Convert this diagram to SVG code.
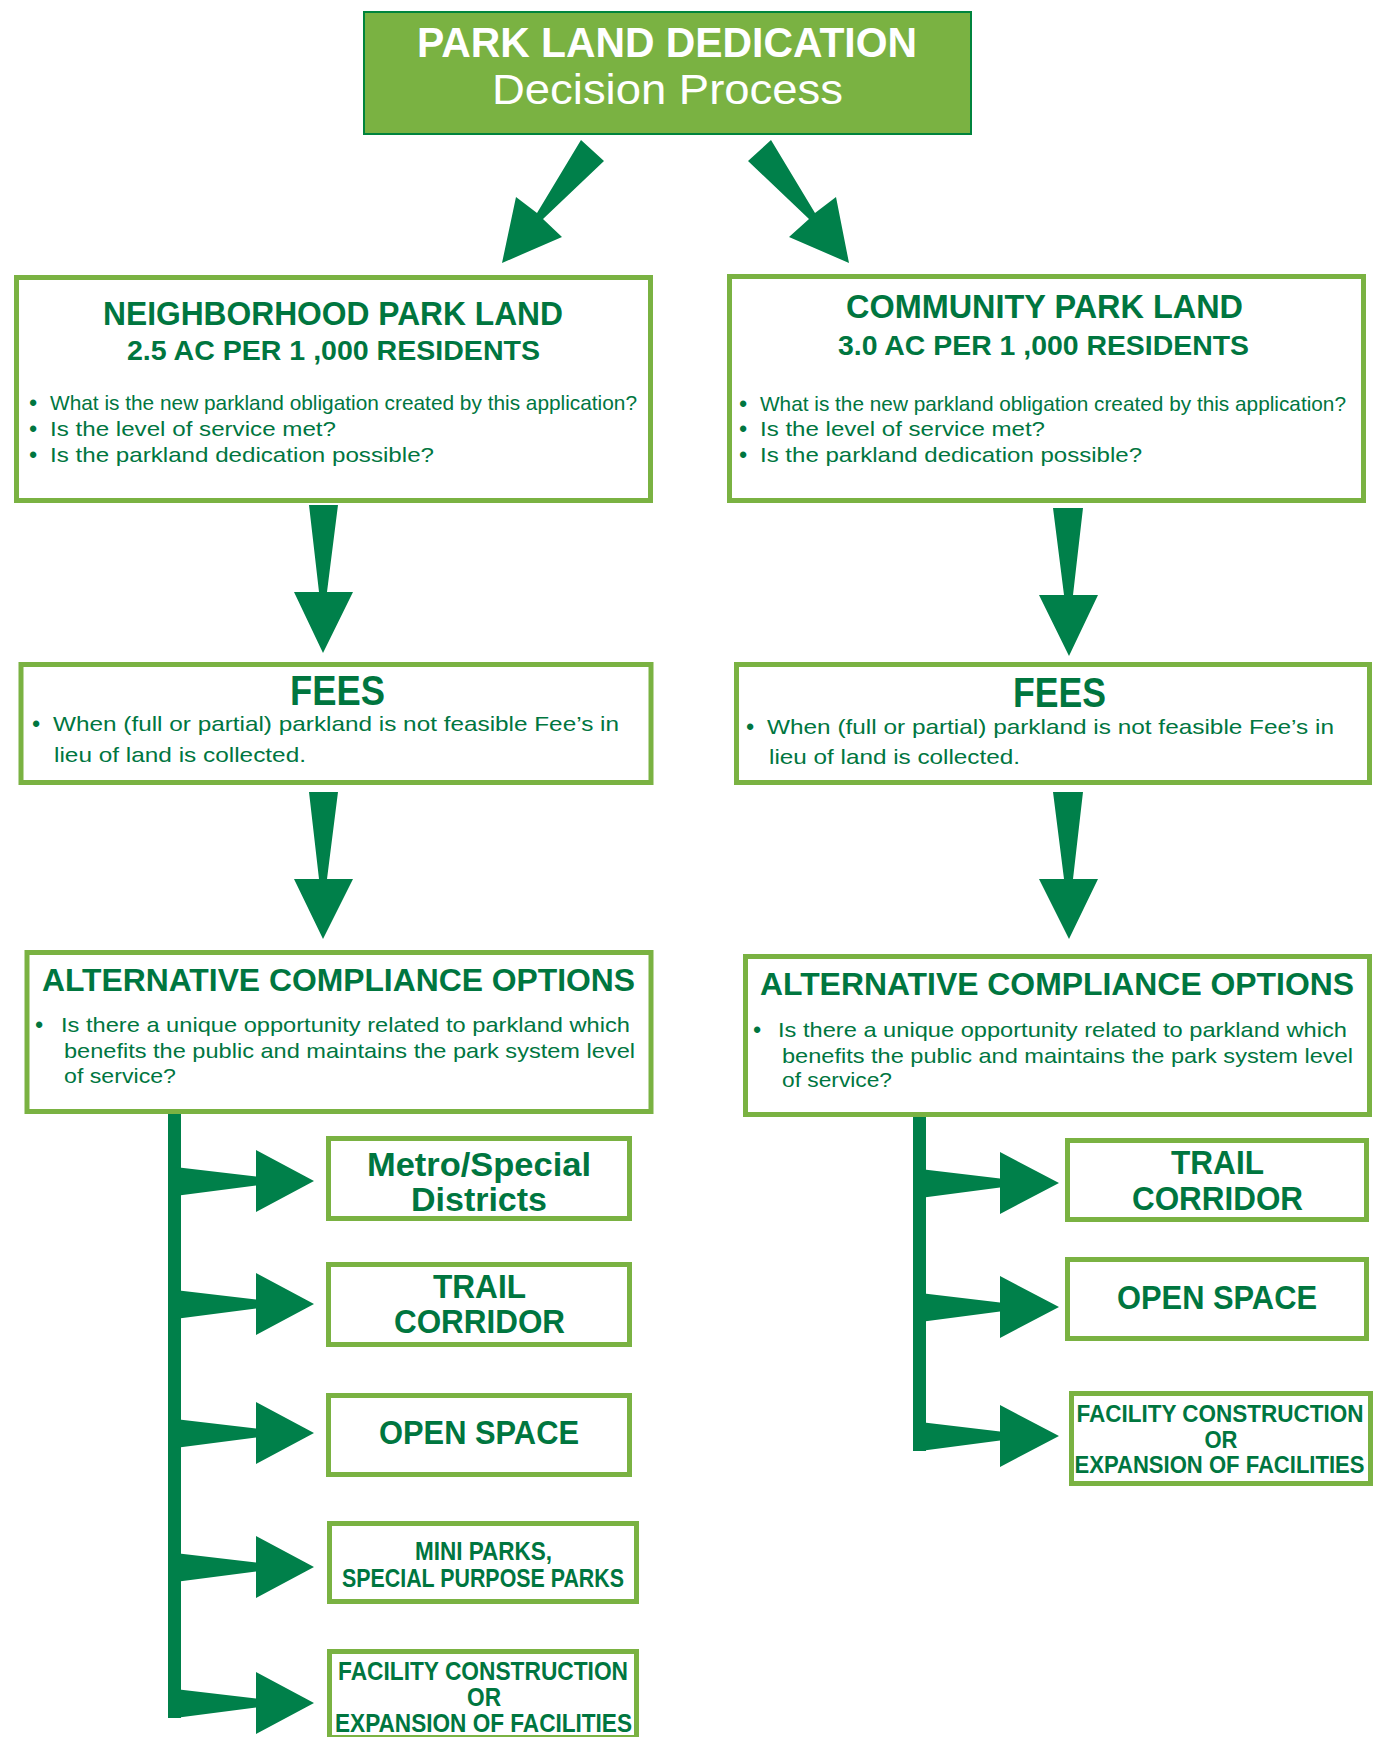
<svg xmlns="http://www.w3.org/2000/svg" width="1373" height="1737" viewBox="0 0 1373 1737">
<style>
.box{fill:#ffffff;stroke:#7ab242;stroke-width:5}
.arr{fill:#00804a;stroke:none}
.h{font-family:"Liberation Sans",Arial,sans-serif;font-weight:bold;fill:#00763f}
.b{font-family:"Liberation Sans",Arial,sans-serif;fill:#00763f;font-size:21px}
.d{font-family:"Liberation Sans",Arial,sans-serif;fill:#00763f;font-size:22px;font-weight:bold;text-anchor:middle}
.c{text-anchor:middle}
.w{fill:#ffffff;font-family:"Liberation Sans",Arial,sans-serif}
</style>
<rect width="1373" height="1737" fill="#ffffff"/>
<g id="connectors">
<polygon class="arr" points="581,140 604,161 543,219 562,237 502,263 516,197 537,213"/>
<polygon class="arr" points="771,140 748,161 809,219 789,237 849,263 836,197 815,213"/>
<polygon class="arr" points="309,505 338,505 327,592 353,592 323,653 294,592 319,592"/>
<polygon class="arr" points="309,792 338,792 327,879 353,879 323,939 294,879 319,879"/>
<polygon class="arr" points="1053,508 1083,508 1073,595 1098,595 1069,656 1039,595 1064,595"/>
<polygon class="arr" points="1053,792 1083,792 1073,879 1098,879 1069,939 1039,879 1064,879"/>
<rect class="arr" x="168" y="1112" width="13" height="606"/>
<polygon class="arr" points="175,1167 256,1176.5 256,1150 314,1181 256,1212 256,1185.5 175,1196"/>
<polygon class="arr" points="175,1290 256,1299.5 256,1273 314,1304 256,1335 256,1308.5 175,1319"/>
<polygon class="arr" points="175,1419 256,1428.5 256,1402 314,1433 256,1464 256,1437.5 175,1448"/>
<polygon class="arr" points="175,1553 256,1562.5 256,1536 314,1567 256,1598 256,1571.5 175,1582"/>
<polygon class="arr" points="175,1689 256,1698.5 256,1672 314,1703 256,1734 256,1707.5 175,1718"/>
<rect class="arr" x="913" y="1115" width="13" height="336"/>
<polygon class="arr" points="920,1169 1000,1178.5 1000,1152 1059,1183 1000,1214 1000,1187.5 920,1198"/>
<polygon class="arr" points="920,1293 1000,1302.5 1000,1276 1059,1307 1000,1338 1000,1311.5 920,1322"/>
<polygon class="arr" points="920,1422 1000,1431.5 1000,1405 1059,1436 1000,1467 1000,1440.5 920,1451"/>
</g>
<g id="title">
<rect x="364" y="12" width="607" height="122" fill="#7ab242" stroke="#00843d" stroke-width="2"/>
<text class="w" x="417" y="57" font-size="42" font-weight="bold" textLength="500" lengthAdjust="spacingAndGlyphs">PARK LAND DEDICATION</text>
<text class="w" x="492" y="104" font-size="42" textLength="351" lengthAdjust="spacingAndGlyphs">Decision Process</text>
</g>
<g id="neighborhood">
<rect class="box" x="16.5" y="277.5" width="634" height="223"/>
<text class="h" x="103" y="325" font-size="33" textLength="460" lengthAdjust="spacingAndGlyphs">NEIGHBORHOOD PARK LAND</text>
<text class="h" x="127" y="360" font-size="28" textLength="413" lengthAdjust="spacingAndGlyphs">2.5 AC PER 1 ,000 RESIDENTS</text>
<text class="d" x="33" y="410">•</text>
<text class="b" x="50" y="410" textLength="587" lengthAdjust="spacingAndGlyphs">What is the new parkland obligation created by this application?</text>
<text class="d" x="33" y="436">•</text>
<text class="b" x="50" y="436" textLength="286" lengthAdjust="spacingAndGlyphs">Is the level of service met?</text>
<text class="d" x="33" y="462">•</text>
<text class="b" x="50" y="462" textLength="384" lengthAdjust="spacingAndGlyphs">Is the parkland dedication possible?</text>
</g>
<g id="community">
<rect class="box" x="729.5" y="276.5" width="634" height="224"/>
<text class="h" x="846" y="318" font-size="33" textLength="397" lengthAdjust="spacingAndGlyphs">COMMUNITY PARK LAND</text>
<text class="h" x="838" y="355" font-size="28" textLength="411" lengthAdjust="spacingAndGlyphs">3.0 AC PER 1 ,000 RESIDENTS</text>
<text class="d" x="743" y="411">•</text>
<text class="b" x="760" y="411" textLength="586" lengthAdjust="spacingAndGlyphs">What is the new parkland obligation created by this application?</text>
<text class="d" x="743" y="436">•</text>
<text class="b" x="760" y="436" textLength="285" lengthAdjust="spacingAndGlyphs">Is the level of service met?</text>
<text class="d" x="743" y="462">•</text>
<text class="b" x="760" y="462" textLength="382" lengthAdjust="spacingAndGlyphs">Is the parkland dedication possible?</text>
</g>
<g id="fees-left">
<rect class="box" x="21" y="664.5" width="630" height="118"/>
<text class="h" x="290" y="705" font-size="42" textLength="95" lengthAdjust="spacingAndGlyphs">FEES</text>
<text class="d" x="36" y="731">•</text>
<text class="b" x="53" y="731" textLength="566" lengthAdjust="spacingAndGlyphs">When (full or partial) parkland is not feasible Fee’s in</text>
<text class="b" x="54" y="762" textLength="252" lengthAdjust="spacingAndGlyphs">lieu of land is collected.</text>
</g>
<g id="fees-right">
<rect class="box" x="736.5" y="664.5" width="633" height="118"/>
<text class="h" x="1013" y="707" font-size="42" textLength="93" lengthAdjust="spacingAndGlyphs">FEES</text>
<text class="d" x="750" y="734">•</text>
<text class="b" x="767" y="734" textLength="567" lengthAdjust="spacingAndGlyphs">When (full or partial) parkland is not feasible Fee’s in</text>
<text class="b" x="769" y="764" textLength="251" lengthAdjust="spacingAndGlyphs">lieu of land is collected.</text>
</g>
<g id="alt-left">
<rect class="box" x="27" y="952.5" width="624" height="159"/>
<text class="h" x="42" y="991" font-size="32" textLength="593" lengthAdjust="spacingAndGlyphs">ALTERNATIVE COMPLIANCE OPTIONS</text>
<text class="d" x="39" y="1032">•</text>
<text class="b" x="61" y="1032" textLength="569" lengthAdjust="spacingAndGlyphs">Is there a unique opportunity related to parkland which</text>
<text class="b" x="64" y="1058" textLength="571" lengthAdjust="spacingAndGlyphs">benefits the public and maintains the park system level</text>
<text class="b" x="64" y="1083" textLength="112" lengthAdjust="spacingAndGlyphs">of service?</text>
</g>
<g id="alt-right">
<rect class="box" x="745.5" y="956.5" width="624" height="158"/>
<text class="h" x="760" y="995" font-size="32" textLength="594" lengthAdjust="spacingAndGlyphs">ALTERNATIVE COMPLIANCE OPTIONS</text>
<text class="d" x="757" y="1037">•</text>
<text class="b" x="778" y="1037" textLength="569" lengthAdjust="spacingAndGlyphs">Is there a unique opportunity related to parkland which</text>
<text class="b" x="782" y="1063" textLength="571" lengthAdjust="spacingAndGlyphs">benefits the public and maintains the park system level</text>
<text class="b" x="782" y="1087" textLength="110" lengthAdjust="spacingAndGlyphs">of service?</text>
</g>
<g id="metro-left">
<rect class="box" x="328.5" y="1138.5" width="301" height="80"/>
<text class="h c" x="479" y="1176" font-size="34" textLength="224" lengthAdjust="spacingAndGlyphs">Metro/Special</text>
<text class="h c" x="479" y="1211" font-size="34" textLength="136" lengthAdjust="spacingAndGlyphs">Districts</text>
</g>
<g id="trail-left">
<rect class="box" x="328.5" y="1264.5" width="301" height="80"/>
<text class="h c" x="479.5" y="1298" font-size="33" textLength="93" lengthAdjust="spacingAndGlyphs">TRAIL</text>
<text class="h c" x="479.5" y="1333" font-size="33" textLength="171" lengthAdjust="spacingAndGlyphs">CORRIDOR</text>
</g>
<g id="openspace-left">
<rect class="box" x="328.5" y="1395.5" width="301" height="79"/>
<text class="h c" x="479" y="1444" font-size="33" textLength="200" lengthAdjust="spacingAndGlyphs">OPEN SPACE</text>
</g>
<g id="miniparks-left">
<rect class="box" x="329.5" y="1523.5" width="307" height="78"/>
<text class="h c" x="483.5" y="1560" font-size="26" textLength="137" lengthAdjust="spacingAndGlyphs">MINI PARKS,</text>
<text class="h c" x="483" y="1587" font-size="26" textLength="282" lengthAdjust="spacingAndGlyphs">SPECIAL PURPOSE PARKS</text>
</g>
<g id="facility-left">
<rect class="box" x="329.5" y="1651.5" width="307" height="86"/>
<text class="h c" x="483" y="1680" font-size="25" textLength="290" lengthAdjust="spacingAndGlyphs">FACILITY CONSTRUCTION</text>
<text class="h c" x="484" y="1706" font-size="25" textLength="34" lengthAdjust="spacingAndGlyphs">OR</text>
<text class="h c" x="483.5" y="1732" font-size="25" textLength="297" lengthAdjust="spacingAndGlyphs">EXPANSION OF FACILITIES</text>
</g>
<g id="trail-right">
<rect class="box" x="1067.5" y="1140.5" width="299" height="79"/>
<text class="h c" x="1217.5" y="1174" font-size="33" textLength="93" lengthAdjust="spacingAndGlyphs">TRAIL</text>
<text class="h c" x="1217.5" y="1210" font-size="33" textLength="171" lengthAdjust="spacingAndGlyphs">CORRIDOR</text>
</g>
<g id="openspace-right">
<rect class="box" x="1067.5" y="1259.5" width="299" height="79"/>
<text class="h c" x="1217" y="1309" font-size="33" textLength="200" lengthAdjust="spacingAndGlyphs">OPEN SPACE</text>
</g>
<g id="facility-right">
<rect class="box" x="1071.5" y="1393.5" width="299" height="90"/>
<text class="h c" x="1220" y="1422" font-size="24" textLength="287" lengthAdjust="spacingAndGlyphs">FACILITY CONSTRUCTION</text>
<text class="h c" x="1221" y="1448" font-size="24" textLength="33" lengthAdjust="spacingAndGlyphs">OR</text>
<text class="h c" x="1219.5" y="1473" font-size="24" textLength="290" lengthAdjust="spacingAndGlyphs">EXPANSION OF FACILITIES</text>
</g>
</svg>
